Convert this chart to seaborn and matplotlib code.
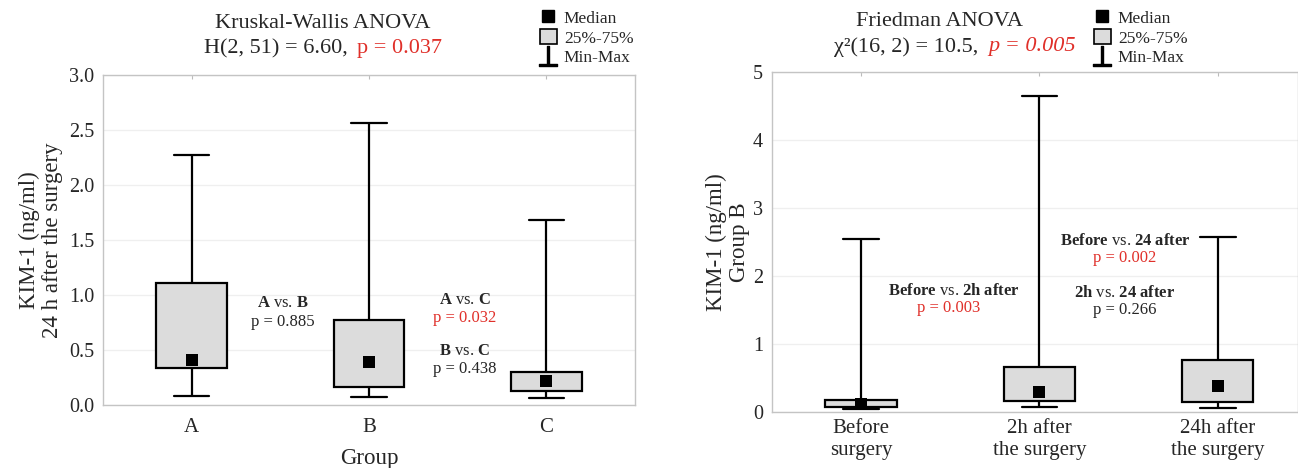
import matplotlib
matplotlib.use("Agg")
import matplotlib.pyplot as plt
import seaborn as sns
import pandas as pd
import numpy as np
from matplotlib.lines import Line2D
from matplotlib.patches import Patch

# ---------------- data ----------------
left_groups = ["A", "B", "C"]
left_min = [0.08, 0.07, 0.06]
left_q1 = [0.335, 0.165, 0.126]
left_med = [0.41, 0.39, 0.22]
left_q3 = [1.105, 0.775, 0.30]
left_max = [2.27, 2.56, 1.68]

right_groups = ["Before\nsurgery", "2h after\nthe surgery", "24h after\nthe surgery"]
right_min = [0.05, 0.07, 0.06]
right_q1 = [0.08, 0.16, 0.15]
right_med = [0.12, 0.30, 0.38]
right_q3 = [0.17, 0.66, 0.77]
right_max = [2.54, 4.65, 2.57]

left_yticks = [0.0, 0.5, 1.0, 1.5, 2.0, 2.5, 3.0]
right_yticks = [0, 1, 2, 3, 4, 5]

RED = "#e0302a"
BOXFILL = "#dcdcdc"
SPINE = "#c4c4c4"

sns.set_style("whitegrid")
plt.rcParams["font.family"] = ["Liberation Serif", "DejaVu Serif"]
plt.rcParams["mathtext.fontset"] = "custom"
plt.rcParams["mathtext.rm"] = "Liberation Serif"
plt.rcParams["mathtext.it"] = "Liberation Serif:italic"
plt.rcParams["mathtext.bf"] = "Liberation Serif:bold"

W, H = 1298, 468
fig = plt.figure(figsize=(W / 100, H / 100), dpi=100)
ax1 = fig.add_axes([103 / W, 1 - 405 / H, 532 / W, 330 / H])
ax2 = fig.add_axes([772 / W, 1 - 412 / H, 526 / W, 340 / H])


def long_frame(groups, mn, q1, md, q3, mx):
    rows = []
    for g, a, b, c, d, e in zip(groups, mn, q1, md, q3, mx):
        for v in (a, b, c, d, e):
            rows.append({"group": g, "value": v})
    return pd.DataFrame(rows)


def draw_panel(ax, groups, mn, q1, md, q3, mx):
    df = long_frame(groups, mn, q1, md, q3, mx)
    sns.boxplot(data=df, x="group", y="value", order=groups, whis=(0, 100),
                width=0.4, color=BOXFILL, saturation=1, linecolor="black",
                linewidth=1.6, showfliers=False,
                medianprops={"visible": False}, ax=ax)
    sns.scatterplot(x=groups, y=md, marker="s", color="black", s=85,
                    edgecolor="black", linewidth=0, zorder=6, ax=ax)
    ax.grid(axis="y", color="#efefef", linewidth=0.9)
    ax.grid(axis="x", visible=False)
    for s in ax.spines.values():
        s.set_color(SPINE)
        s.set_linewidth(1.0)
    ax.tick_params(axis="x", top=True, bottom=False, direction="in",
                   length=3, color="#bbbbbb", labelsize=15, pad=9)
    ax.tick_params(axis="y", left=False, labelsize=14.5, pad=3)
    ax.set_axisbelow(True)


draw_panel(ax1, left_groups, left_min, left_q1, left_med, left_q3, left_max)
draw_panel(ax2, right_groups, right_min, right_q1, right_med, right_q3, right_max)

ax1.set_xlim(-0.5, 2.5)
ax1.set_ylim(0, 3.0)
ax1.set_yticks(left_yticks)
ax1.set_yticklabels([f"{t:.1f}" for t in left_yticks])
ax1.set_xlabel("Group", fontsize=16.5)
ax1.xaxis.set_label_coords(0.5, -0.13)
ax1.set_ylabel("KIM-1 (ng/ml)\n24 h after the surgery", fontsize=16.5,
               linespacing=1.15)
ax1.yaxis.set_label_coords(-0.075, 0.5)

ax2.set_xlim(-0.5, 2.45)
ax2.set_ylim(0, 5)
ax2.set_yticks(right_yticks)
ax2.set_yticklabels([str(t) for t in right_yticks])
ax2.set_xlabel("")
ax2.set_ylabel("KIM-1 (ng/ml)\nGroup B", fontsize=16.5, linespacing=1.15)
ax2.yaxis.set_label_coords(-0.042, 0.5)
ax2.tick_params(axis="x", pad=5)
for lab in ax2.get_xticklabels():
    lab.set_linespacing(1.2)

# ---------------- annotations ----------------
ann = dict(ha="center", va="center", fontsize=12)
ax1.text(0.515, 0.93, r"$\mathbf{A}$ vs. $\mathbf{B}$", **ann)
ax1.text(0.515, 0.755, "p = 0.885", **ann)
ax1.text(1.54, 0.955, r"$\mathbf{A}$ vs. $\mathbf{C}$", **ann)
ax1.text(1.54, 0.79, "p = 0.032", color=RED, **ann)
ax1.text(1.54, 0.49, r"$\mathbf{B}$ vs. $\mathbf{C}$", **ann)
ax1.text(1.54, 0.327, "p = 0.438", **ann)

ax2.text(0.52, 1.78, r"$\mathbf{Before}$ vs. $\mathbf{2h\ after}$", **ann)
ax2.text(0.49, 1.53, "p = 0.003", color=RED, **ann)
ax2.text(1.48, 2.52, r"$\mathbf{Before}$ vs. $\mathbf{24\ after}$", **ann)
ax2.text(1.48, 2.27, "p = 0.002", color=RED, **ann)
ax2.text(1.48, 1.75, r"$\mathbf{2h}$ vs. $\mathbf{24\ after}$", **ann)
ax2.text(1.48, 1.50, "p = 0.266", **ann)

# ---------------- titles ----------------
tfs = 16
fig.text(323 / W, 1 - 23 / H, "Kruskal-Wallis ANOVA", ha="center", va="center", fontsize=tfs)
fig.text(348 / W, 1 - 49 / H, "H(2, 51) = 6.60,", ha="right", va="center", fontsize=tfs)
fig.text(357 / W, 1 - 49 / H, "p = 0.037", ha="left", va="center", fontsize=tfs, color=RED)

fig.text(940 / W, 1 - 21 / H, "Friedman ANOVA", ha="center", va="center", fontsize=tfs)
fig.text(978 / W, 1 - 47 / H, "χ²(16, 2) = 10.5,", ha="right", va="center", fontsize=tfs)
fig.text(988 / W, 1 - 47 / H, "p = 0.005", ha="left", va="center", fontsize=tfs,
         color=RED, style="italic")

# ---------------- legends ----------------
def legend_handles():
    return [
        Line2D([], [], marker="s", linestyle="none", color="black", markersize=9),
        Patch(facecolor=BOXFILL, edgecolor="black", linewidth=1.2),
        Line2D([], [], marker=r"$\perp$", linestyle="none", color="black", markersize=14),
    ]


labels = ["Median", "25%-75%", "Min-Max"]
for x0 in (530, 1084):
    fig.legend(legend_handles(), labels, loc="upper left",
               bbox_to_anchor=(x0 / W, 1.0), frameon=False,
               fontsize=12.5, handlelength=1.0, handleheight=0.9,
               handletextpad=0.4, labelspacing=0.15, borderpad=0.05)

fig.savefig("out.png", dpi=100)
